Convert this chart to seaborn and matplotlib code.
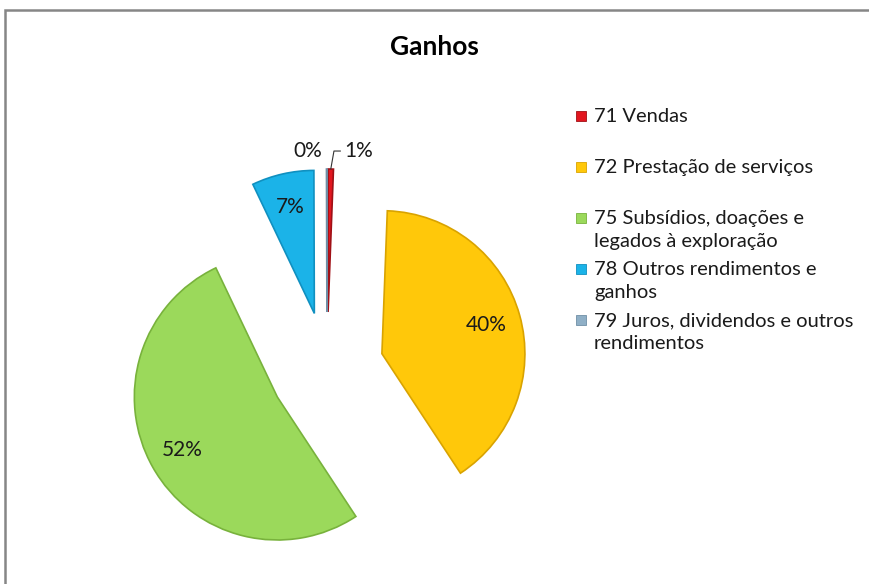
import matplotlib
matplotlib.use("Agg")
import matplotlib.pyplot as plt
from matplotlib.patches import Rectangle
import seaborn as sns
import numpy as np

categories = ["71 Vendas", "72 Prestação de serviços",
              "75 Subsídios, doações e\nlegados à exploração",
              "78 Outros rendimentos e\nganhos",
              "79 Juros, dividendos e outros\nrendimentos"]
values = [0.6, 40.0, 52.0, 7.0, 0.05]
colors = ["#E2161F", "#FFC80A", "#9BD95B", "#1BB3E8", "#8FAFC6"]
edges = ["#A01016", "#D9A300", "#78B23C", "#1090C0", "#6F8FA6"]
title = "Ganhos"

sns.set_theme(style="white")
plt.rcParams["font.family"] = ["Lato", "DejaVu Sans"]

W, H = 869, 584
fig = plt.figure(figsize=(W / 100, H / 100), dpi=100)
fig.patch.set_facecolor("white")
ax = fig.add_axes([0, 0, 1, 1])

cx, cy, R, expl = 327, H - 369, 143, 57
wedges, texts, autotexts = ax.pie(
    values, colors=colors, startangle=90, counterclock=False,
    center=(cx, cy), radius=R, explode=[expl] * len(values),
    autopct=lambda p: f"{p:.0f}%", pctdistance=0.76,
    wedgeprops=dict(linewidth=1.2), textprops=dict(fontsize=15, color="#1a1a1a"))
for w, ec in zip(wedges, edges):
    w.set_edgecolor(ec)

ax.set_xlim(0, W)
ax.set_ylim(0, H)
ax.set_aspect("equal")
ax.axis("off")

# small slices: labels placed outside
total = sum(values)
for i in (0, 4):
    autotexts[i].set_visible(False)
    w = wedges[i]
    th = np.deg2rad((w.theta1 + w.theta2) / 2)
    tip = (w.center[0] + R * np.cos(th), w.center[1] + R * np.sin(th))
    pct = f"{100 * values[i] / total:.0f}%"
    if i == 0:
        ax.annotate(pct, xy=tip, xytext=(tip[0] + 13, tip[1] + 18),
                    fontsize=15, color="#1a1a1a", va="center", ha="left",
                    arrowprops=dict(arrowstyle="-", color="#333333", lw=0.8,
                                    connectionstyle="angle,angleA=0,angleB=80,rad=0",
                                    shrinkA=0, shrinkB=0))
    else:
        ax.text(tip[0] - 19, tip[1] + 18, pct, fontsize=15, color="#1a1a1a",
                va="center", ha="center")

ax.text(W / 2, H - 47, title, fontsize=19, fontweight="bold",
        ha="center", va="center", color="black")

# legend (Excel style, fixed slots)
lx, ly0, step = 581, H - 116, 51
for i, (lab, w) in enumerate(zip(categories, wedges)):
    y = ly0 - i * step
    ax.add_patch(Rectangle((lx - 5, y - 5), 10, 10, facecolor=w.get_facecolor(),
                           edgecolor=edges[i], lw=0.6))
    ax.text(lx + 13, y + 8, lab, fontsize=14.5, ha="left", va="top",
            linespacing=1.45, color="#1a1a1a")

# chart frame
fig.patches.append(Rectangle((5 / W, -0.1), 1.2, 1.1 - 10 / H, transform=fig.transFigure,
                             fill=False, edgecolor="#868686", lw=1.8, figure=fig))

fig.savefig("out.png", dpi=100, facecolor="white")
